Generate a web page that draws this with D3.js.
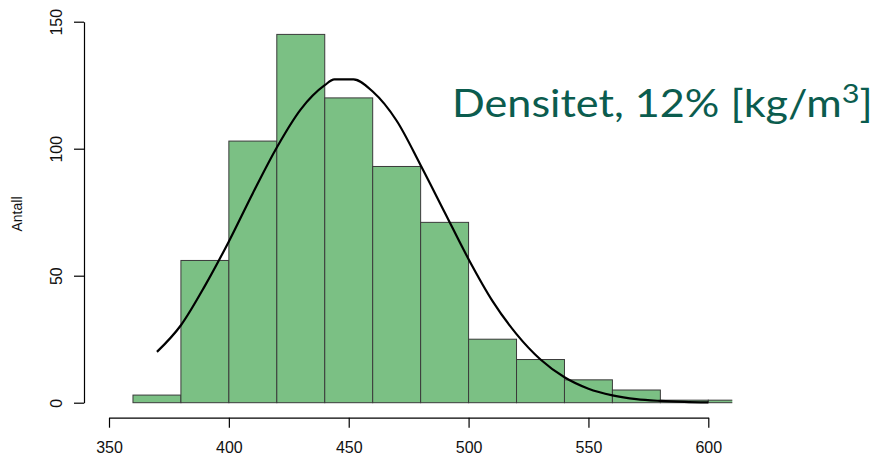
<!DOCTYPE html>
<html>
<head>
<meta charset="utf-8">
<script src="https://cdn.jsdelivr.net/npm/d3@7"></script>
<style>
  html, body { margin: 0; padding: 0; background: #fff; }
  svg { display: block; }
</style>
</head>
<body>
<svg id="chart" width="881" height="456"></svg>
<script>
// Histogram of density at 12% moisture, bins of 20 kg/m3
const binStarts = [360, 380, 400, 420, 440, 460, 480, 500, 520, 540, 560, 580, 600];
const binWidth = 20;
const counts = [3, 56, 103, 145, 120, 93, 71, 25, 17, 9, 5, 1, 1];

// Fitted density curve, scaled to counts
const curveX = [370, 380, 390, 400, 410, 420, 430, 440, 444, 452, 460, 470, 480, 490, 500, 510, 520, 530, 540, 550, 560, 570, 580, 590, 600];
const curveY = [20, 30.5, 46, 63.5, 82.5, 100.5, 115.5, 125, 127.3, 127.3, 122.5, 111, 93.5, 75, 56.5, 40, 27, 17, 10, 5.5, 2.9, 1.4, 0.7, 0.3, 0.1];

const xTicks = [350, 400, 450, 500, 550, 600];
const yTicks = [0, 50, 100, 150];

const svg = d3.select("#chart");

const x = d3.scaleLinear().domain([350, 600]).range([109, 708.3]);
const y = d3.scaleLinear().domain([0, 150]).range([402.7, 21.7]);

// plot region clip (right edge at 610)
svg.append("defs").append("clipPath").attr("id", "plotClip")
  .append("rect")
  .attr("x", 84).attr("y", 0)
  .attr("width", x(610) - 84).attr("height", 410);

const plot = svg.append("g").attr("clip-path", "url(#plotClip)");

plot.selectAll("rect.bar")
  .data(binStarts.map((s, i) => ({ s, c: counts[i] })))
  .join("rect")
  .attr("class", "bar")
  .attr("x", d => x(d.s))
  .attr("y", d => y(d.c))
  .attr("width", d => x(d.s + binWidth) - x(d.s))
  .attr("height", d => y(0) - y(d.c))
  .attr("fill", "#7bc084")
  .attr("stroke", "#3a3a3a")
  .attr("stroke-width", 1);

const line = d3.line()
  .x(d => x(d[0]))
  .y(d => y(d[1]))
  .curve(d3.curveMonotoneX);

plot.append("path")
  .datum(curveX.map((v, i) => [v, curveY[i]]))
  .attr("d", line)
  .attr("fill", "none")
  .attr("stroke", "#000")
  .attr("stroke-width", 2.2)
  .attr("stroke-linejoin", "round");

// axes
const axisFont = "'Liberation Sans', Arial, sans-serif";

const xAxis = svg.append("g")
  .attr("transform", "translate(0,417.7)")
  .call(d3.axisBottom(x).tickValues(xTicks).tickSize(10).tickSizeOuter(0).tickPadding(14));
xAxis.select(".domain").attr("stroke", "#000").attr("stroke-width", 1.2);
xAxis.selectAll(".tick line").attr("stroke", "#000").attr("stroke-width", 1.2);
xAxis.selectAll(".tick text")
  .attr("font-family", axisFont)
  .attr("font-size", 16)
  .attr("fill", "#111")
  .attr("dy", null)
  .attr("y", 35.8);

const yAxis = svg.append("g")
  .attr("transform", "translate(84,0)")
  .call(d3.axisLeft(y).tickValues(yTicks).tickSize(10).tickSizeOuter(0));
yAxis.select(".domain").attr("stroke", "#000").attr("stroke-width", 1.2);
yAxis.selectAll(".tick line").attr("stroke", "#000").attr("stroke-width", 1.2);
yAxis.selectAll(".tick text")
  .attr("font-family", axisFont)
  .attr("font-size", 16)
  .attr("fill", "#111")
  .attr("x", null).attr("dy", null)
  .attr("text-anchor", "middle")
  .attr("transform", "translate(-22,0) rotate(-90)");

svg.append("text")
  .attr("transform", "translate(21.5,214) rotate(-90)")
  .attr("text-anchor", "middle")
  .attr("font-family", axisFont)
  .attr("font-size", 14)
  .attr("fill", "#111")
  .text("Antall");

// title
const title = svg.append("text")
  .attr("x", 0).attr("y", 0)
  .attr("font-family", "Lato, 'Open Sans', sans-serif")
  .attr("font-size", 38)
  .attr("fill", "#0b5c4e");
title.append("tspan").text("Densitet, 12% [kg/m");
title.append("tspan").attr("font-size", 27).attr("dy", -14).text("3");
title.append("tspan").attr("dy", 14).text("]");

const bb = title.node().getBBox();
const sx = 421 / bb.width;
title.attr("transform", `translate(${452 - bb.x * sx},116.7) scale(${sx},1)`);
</script>
</body>
</html>
